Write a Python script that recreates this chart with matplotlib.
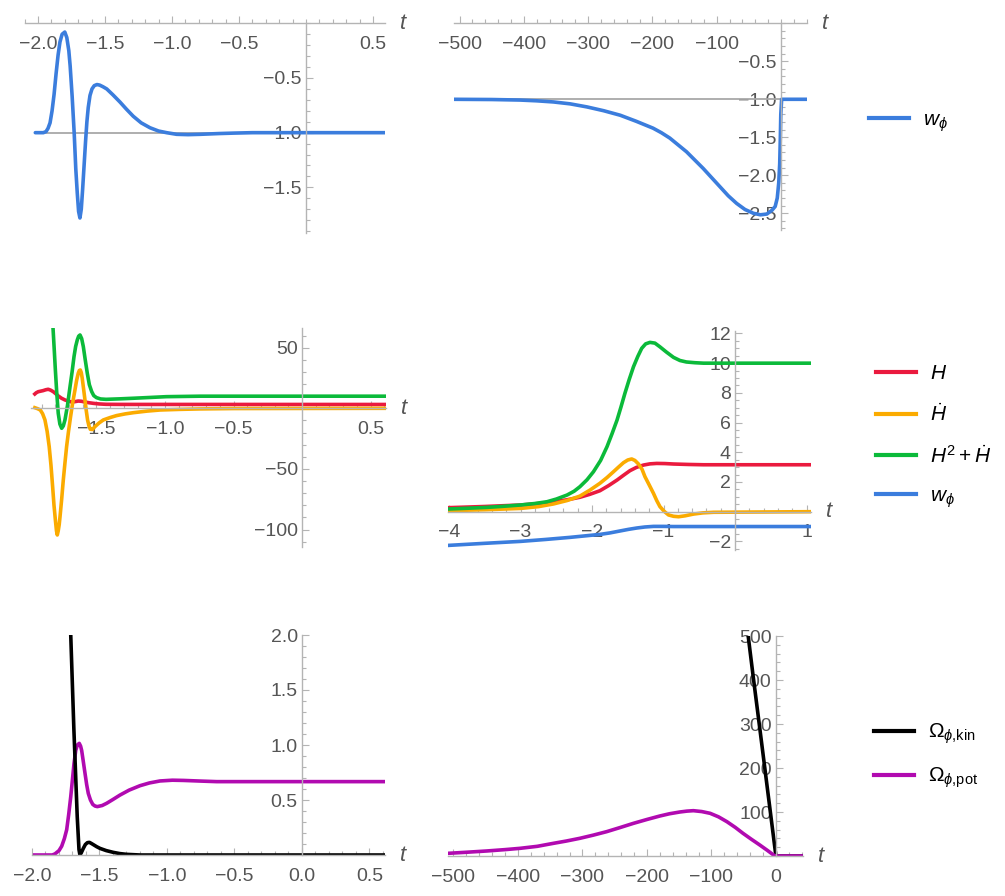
import matplotlib
matplotlib.use("Agg")
import matplotlib.pyplot as plt
from matplotlib.ticker import FixedLocator, MultipleLocator, FuncFormatter
from matplotlib.lines import Line2D

plt.rcParams.update({
    "font.family": "Liberation Sans",
    "mathtext.fontset": "custom",
    "mathtext.rm": "Liberation Sans",
    "mathtext.it": "Liberation Sans:italic",
    "mathtext.fallback": "stixsans",
})

BLUE = "#3b7ddd"
RED = "#ea1a3e"
ORANGE = "#fbab00"
GREEN = "#0bba3a"
MAGENTA = "#b10ab0"
BLACK = "#000000"
REF_GRAY = "#a8a8a8"
AXIS_GRAY = "#b4b4b4"
LABEL_GRAY = "#555555"

# ---- panel 1: w_phi, early times
w1_t = [-2.02, -1.96, -1.94, -1.925, -1.91, -1.895, -1.88, -1.865, -1.85, -1.836,
        -1.82, -1.80, -1.785, -1.77, -1.76, -1.745, -1.73, -1.718, -1.707, -1.697,
        -1.687, -1.677, -1.667, -1.655, -1.645, -1.635, -1.625, -1.612, -1.597, -1.58,
        -1.56, -1.54, -1.515, -1.487, -1.44, -1.388, -1.34, -1.289, -1.23, -1.164,
        -1.10, -1.04, -0.965, -0.88, -0.79, -0.65, -0.54, -0.40, 0.59]
w1_v = [-1.0, -1.0, -0.99, -0.96, -0.91, -0.80, -0.65, -0.46, -0.29, -0.17,
        -0.10, -0.08, -0.13, -0.25, -0.39, -0.67, -1.0, -1.33, -1.55, -1.72,
        -1.78, -1.70, -1.52, -1.28, -1.08, -0.90, -0.77, -0.66, -0.60, -0.57,
        -0.56, -0.565, -0.58, -0.60, -0.655, -0.72, -0.785, -0.85, -0.91, -0.955,
        -0.985, -1.0, -1.015, -1.018, -1.015, -1.008, -1.004, -1.0, -1.0]
ref1_t = [-2.02, 0.59]
ref1_v = [-1.0, -1.0]

# ---- panel 2: w_phi, long range
w2_t = [-512, -450, -406, -380, -354, -328, -302, -276, -250, -225,
        -199, -186, -173, -160, -147, -134, -121, -108, -95, -82,
        -69, -56, -43, -32, -22, -14, -9, -5.8, -3.5, -2,
        -1, -0.3, 1, 40]
w2_v = [-1.0, -1.003, -1.01, -1.02, -1.035, -1.06, -1.10, -1.15, -1.21, -1.29,
        -1.38, -1.44, -1.51, -1.60, -1.69, -1.80, -1.91, -2.03, -2.15, -2.27,
        -2.37, -2.45, -2.50, -2.52, -2.51, -2.46, -2.41, -2.30, -2.10, -1.85,
        -1.5, -1.2, -1.0, -1.0]
ref2_t = [-512, 40]
ref2_v = [-1.0, -1.0]

# ---- panel 3: H, Hdot, H^2+Hdot, early times
h3_t = [-1.95, -1.94, -1.925, -1.905, -1.889, -1.87, -1.852, -1.835, -1.815, -1.797,
        -1.779, -1.755, -1.73, -1.705, -1.681, -1.657, -1.633, -1.61, -1.584, -1.555,
        -1.523, -1.48, -1.43, -1.33, -1.23, 0.61]
h3_v = [11.8, 12.8, 13.7, 14.2, 14.6, 15.3, 15.7, 15.0, 13.7, 12.0,
        10.2, 8.3, 6.9, 5.9, 5.2, 5.5, 6.0, 5.8, 5.2, 4.6,
        4.1, 3.6, 3.3, 3.22, 3.2, 3.16]
hd3_t = [-1.95, -1.93, -1.91, -1.893, -1.876, -1.86, -1.845, -1.832, -1.82, -1.81,
         -1.80, -1.792, -1.786, -1.779, -1.772, -1.766, -1.754, -1.742, -1.73, -1.718,
         -1.704, -1.689, -1.673, -1.657, -1.645, -1.633, -1.625, -1.618, -1.611, -1.604,
         -1.594, -1.584, -1.575, -1.565, -1.555, -1.545, -1.53, -1.511, -1.48, -1.45,
         -1.40, -1.353, -1.29, -1.23, -1.13, -1.036, -0.9, -0.745, -0.5, 0.61]
hd3_v = [0.5, -0.3, -1.4, -4.5, -9.6, -19, -31.6, -47, -64.6, -80,
         -92, -101, -104.5, -101, -96, -89.4, -75, -59, -45, -31.6,
         -19, -6.9, 5, 15.1, 23, 28.9, 31.2, 31.6, 29.5, 24.8,
         16, 6.9, -1.5, -9.6, -14.5, -17.3, -17.5, -15.1, -12, -9.6,
         -7.6, -6.0, -4.6, -3.6, -2.3, -1.4, -0.9, -0.5, -0.2, 0.0]
g3_t = [-1.86, -1.835, -1.817, -1.808, -1.80, -1.79, -1.779, -1.767, -1.754, -1.742,
        -1.73, -1.712, -1.693, -1.678, -1.664, -1.652, -1.64, -1.63, -1.62, -1.608,
        -1.596, -1.582, -1.567, -1.552, -1.535, -1.52, -1.50, -1.47, -1.43, -1.33,
        -1.23, -1.1, -0.99, -0.74, 0.61]
g3_v = [130, 90, 66, 48, 31.6, 13, -4.1, -13, -16.5, -14.5,
        -9.6, 2, 17.9, 30, 42.6, 51, 56.4, 59.5, 60.5, 57.5,
        50.9, 40, 28.9, 19.5, 13.8, 10.5, 8.8, 7.7, 7.4, 7.8,
        8.3, 9.0, 9.6, 10.0, 10.0]

# ---- panel 4: H, Hdot, H^2+Hdot, w_phi
g4_t = [-4.01, -3.75, -3.47, -3.25, -3.0, -2.8, -2.63, -2.5, -2.35, -2.25,
        -2.17, -2.07, -1.98, -1.88, -1.79, -1.72, -1.65, -1.595, -1.54, -1.48,
        -1.42, -1.36, -1.305, -1.25, -1.19, -1.12, -1.05, -0.96, -0.86, -0.77,
        -0.68, -0.56, -0.44, 1.06]
g4_v = [0.18, 0.23, 0.29, 0.36, 0.45, 0.55, 0.67, 0.85, 1.12, 1.38,
        1.68, 2.15, 2.69, 3.45, 4.38, 5.25, 6.17, 7.05, 7.97, 8.9,
        9.76, 10.45, 11.0, 11.3, 11.4, 11.35, 11.1, 10.75, 10.39, 10.18,
        10.08, 10.03, 10.0, 10.0]
h4_t = [-4.01, -3.5, -3.0, -2.75, -2.54, -2.35, -2.17, -2.03, -1.89, -1.77,
        -1.65, -1.56, -1.47, -1.38, -1.28, -1.19, -1.095, -0.98, -0.86, -0.65,
        -0.44, 1.06]
h4_v = [0.27, 0.35, 0.45, 0.55, 0.67, 0.8, 0.97, 1.17, 1.41, 1.75,
        2.13, 2.45, 2.76, 2.98, 3.14, 3.22, 3.25, 3.24, 3.21, 3.18,
        3.16, 3.16]
hd4_t = [-4.01, -3.5, -3.0, -2.75, -2.54, -2.35, -2.17, -2.03, -1.89, -1.79,
         -1.70, -1.63, -1.56, -1.50, -1.445, -1.40, -1.35, -1.30, -1.26, -1.20,
         -1.14, -1.095, -1.05, -0.99, -0.93, -0.86, -0.79, -0.70, -0.58, -0.45,
         -0.30, 1.06]
hd4_v = [0.07, 0.13, 0.22, 0.34, 0.52, 0.75, 1.05, 1.45, 1.91, 2.3,
         2.69, 3.0, 3.30, 3.48, 3.55, 3.45, 3.21, 2.85, 2.36, 1.8,
         1.23, 0.75, 0.34, 0.02, -0.22, -0.31, -0.34, -0.28, -0.16, -0.08,
         -0.04, 0.0]
w4_t = [-4.01, -3.5, -3.0, -2.65, -2.31, -2.1, -1.89, -1.75, -1.61, -1.49,
        -1.375, -1.26, -1.14, -1.0, -0.86, 1.06]
w4_v = [-2.27, -2.13, -2.0, -1.87, -1.73, -1.63, -1.53, -1.43, -1.30, -1.19,
        -1.10, -1.03, -0.99, -0.99, -1.0, -1.0]

# ---- panel 5: Omega kin / pot, early times
op5_t = [-1.98, -1.85, -1.83, -1.80, -1.78, -1.76, -1.743, -1.728, -1.713, -1.70,
         -1.689, -1.676, -1.664, -1.65, -1.64, -1.632, -1.62, -1.607, -1.595, -1.583,
         -1.567, -1.55, -1.533, -1.516, -1.48, -1.447, -1.40, -1.348, -1.28, -1.2,
         -1.13, -1.052, -0.96, -0.879, -0.75, -0.632, 0.615]
op5_v = [0.0, 0.0, 0.01, 0.04, 0.08, 0.15, 0.23, 0.37, 0.53, 0.69,
         0.83, 0.95, 1.0, 1.015, 0.99, 0.95, 0.85, 0.74, 0.64, 0.56,
         0.5, 0.46, 0.445, 0.44, 0.45, 0.47, 0.505, 0.545, 0.59, 0.63,
         0.655, 0.673, 0.68, 0.678, 0.672, 0.667, 0.667]
ok5_t = [-1.78, -1.713, -1.69, -1.665, -1.652, -1.645, -1.635, -1.62, -1.605, -1.59,
         -1.575, -1.56, -1.54, -1.52, -1.496, -1.45, -1.398, -1.35, -1.30, -1.2,
         0.615]
ok5_v = [4.2, 2.0, 1.15, 0.35, 0.05, 0.0, 0.02, 0.06, 0.095, 0.112,
         0.115, 0.105, 0.09, 0.075, 0.06, 0.04, 0.024, 0.013, 0.006, 0.0,
         0.0]

# ---- panel 6: Omega kin / pot, long range
op6_t = [-508, -480, -448.5, -420, -397, -370, -345, -325, -304, -283,
         -262.5, -242, -221, -200, -180, -165, -149, -138, -128, -115,
         -102, -89, -76, -63, -51, -38, -25, -13, -3, 0, 42]
op6_v = [6.1, 8.5, 11.4, 14.5, 17.4, 22, 28.8, 34, 40.2, 47.5,
         55.3, 64.5, 74.2, 83, 90.9, 96, 100, 102, 103, 101,
         97, 89, 78, 65, 51.5, 38, 25, 12.5, 1.5, 0.0, 0.0]
ok6_t = [-46, -43, -35, -25, -15, -5, 0, 42]
ok6_v = [535, 500, 405, 290, 174, 58, 0.0, 0.0]

LW = 2.6


def fmt(decimals):
    def f(v, pos):
        return f"{v:.{decimals}f}".replace("-", "\u2212")
    return FuncFormatter(f)


def make_axes(fig, box, xlim, ylim, xticks, yticks, xminor, yminor, dec_x, dec_y):
    # box in pixels: left, top, right, bottom
    W, H = 1005, 896
    l, t, r, b = box
    ax = fig.add_axes([l / W, 1 - b / H, (r - l) / W, (b - t) / H])
    ax.set_xlim(*xlim)
    ax.set_ylim(*ylim)
    ax.patch.set_alpha(0)
    for s in ("top", "right"):
        ax.spines[s].set_visible(False)
    ax.spines["left"].set_position(("data", 0))
    ax.spines["bottom"].set_position(("data", 0))
    for s in ("left", "bottom"):
        ax.spines[s].set_color(AXIS_GRAY)
        ax.spines[s].set_linewidth(1.0)
    ax.xaxis.set_major_locator(FixedLocator(xticks))
    ax.yaxis.set_major_locator(FixedLocator(yticks))
    ax.xaxis.set_minor_locator(MultipleLocator(xminor))
    ax.yaxis.set_minor_locator(MultipleLocator(yminor))
    ax.xaxis.set_major_formatter(fmt(dec_x))
    ax.yaxis.set_major_formatter(fmt(dec_y))
    ax.tick_params(which="both", direction="in", color=AXIS_GRAY, labelcolor=LABEL_GRAY,
                   labelsize=14, width=0.8)
    ax.tick_params(which="major", length=5)
    ax.tick_params(which="minor", length=2.8)
    ax.tick_params(axis="x", which="major", pad=9)
    ax.tick_params(axis="y", which="major", pad=3)
    ax.annotate("t", xy=(1, 0), xycoords=ax.get_yaxis_transform(),
                xytext=(13, 0), textcoords="offset points", ha="center", va="center",
                fontsize=16, style="italic", color=LABEL_GRAY)
    return ax


fig = plt.figure(figsize=(10.05, 8.96), dpi=100)

# panel 1
ax1 = make_axes(fig, (24.6, 23.3, 385, 233.3), (-2.10, 0.59), (-1.92, 0.0),
                [-2.0, -1.5, -1.0, -0.5, 0.5], [-1.5, -1.0, -0.5], 0.1, 0.1, 1, 1)
ax1.plot(ref1_t, ref1_v, color=REF_GRAY, lw=1.3)
ax1.plot(w1_t, w1_v, color=BLUE, lw=LW, solid_capstyle="round")

# panel 2
ax2 = make_axes(fig, (454.4, 23.3, 806.7, 230), (-508, 40), (-2.72, 0.0),
                [-500, -400, -300, -200, -100], [-2.5, -2.0, -1.5, -1.0, -0.5], 20, 0.1, 0, 1)
ax2.plot(ref2_t, ref2_v, color=REF_GRAY, lw=1.3)
ax2.plot(w2_t, w2_v, color=BLUE, lw=LW, solid_capstyle="round")

# panel 3
ax3 = make_axes(fig, (30.7, 328.3, 385.6, 546.5), (-1.98, 0.61), (-114, 66),
                [-2.0, -1.5, -1.0, -0.5, 0.5], [-100, -50, 50], 0.1, 10, 1, 0)
ax3.plot(h3_t, h3_v, color=RED, lw=LW)
ax3.plot(hd3_t, hd3_v, color=ORANGE, lw=LW)
ax3.plot(g3_t, g3_v, color=GREEN, lw=LW)

# panel 4
ax4 = make_axes(fig, (447.6, 330.5, 810.8, 550.3), (-4.02, 1.06), (-2.6, 12.2),
                [-4, -3, -2, -1, 1], [-2, 2, 4, 6, 8, 10, 12], 0.2, 0.5, 0, 0)
ax4.plot(h4_t, h4_v, color=RED, lw=LW)
ax4.plot(hd4_t, hd4_v, color=ORANGE, lw=LW)
ax4.plot(g4_t, g4_v, color=GREEN, lw=LW)
ax4.plot(w4_t, w4_v, color=BLUE, lw=LW)

# panel 5
ax5 = make_axes(fig, (32, 635, 385, 855), (-2.0, 0.615), (0, 2.0),
                [-2.0, -1.5, -1.0, -0.5, 0.0, 0.5], [0.5, 1.0, 1.5, 2.0], 0.1, 0.1, 1, 1)
ax5.plot(op5_t, op5_v, color=MAGENTA, lw=LW)
ax5.plot(ok5_t, ok5_v, color=BLACK, lw=LW)

# panel 6
ax6 = make_axes(fig, (448.3, 636, 803, 856), (-508, 42), (0, 500),
                [-500, -400, -300, -200, -100, 0], [100, 200, 300, 400, 500], 20, 20, 0, 0)
ax6.plot(ok6_t, ok6_v, color=BLACK, lw=LW)
ax6.plot(op6_t, op6_v, color=MAGENTA, lw=LW)

# legends
leg_kw = dict(loc="center left", frameon=False, borderpad=0, borderaxespad=0,
              handlelength=1.9, handletextpad=0.7, fontsize=15, labelspacing=0.95)


def handles(colors):
    return [Line2D([], [], color=c, lw=3) for c in colors]


fig.legend(handles([BLUE]), [r"$w_\phi$"], bbox_to_anchor=(869 / 1005, 1 - 122 / 896), **leg_kw)
fig.legend(handles([RED, ORANGE, GREEN, BLUE]),
           [r"$H$", r"$\dot{H}$", r"$H^2+\dot{H}$", r"$w_\phi$"],
           bbox_to_anchor=(876 / 1005, 1 - 437 / 896), **leg_kw)
fig.legend(handles([BLACK, MAGENTA]),
           [r"$\Omega_{\phi{,}\mathrm{kin}}$", r"$\Omega_{\phi{,}\mathrm{pot}}$"],
           bbox_to_anchor=(874 / 1005, 1 - 756 / 896), **leg_kw)

fig.savefig("out.png", dpi=100)
